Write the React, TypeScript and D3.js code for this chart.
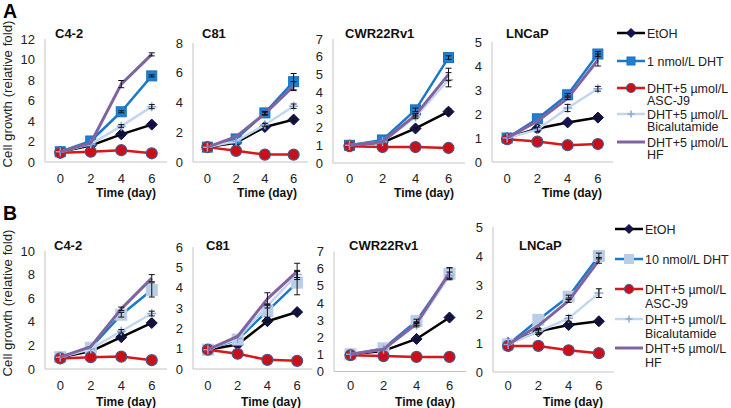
import React from "react";
import * as d3 from "d3";

const days = ["0", "2", "4", "6"];
const cellLines = ["C4-2", "C81", "CWR22Rv1", "LNCaP"];
const legendLabelsA = [["EtOH"], ["1 nmol/L DHT"], ["DHT+5 µmol/L", "ASC-J9"], ["DHT+5 µmol/L", "Bicalutamide"], ["DHT+5 µmol/L", "HF"]];
const legendLabelsB = [["EtOH"], ["10 nmol/L DHT"], ["DHT+5 µmol/L", "ASC-J9"], ["DHT+5 µmol/L", "Bicalutamide"], ["DHT+5 µmol/L", "HF"]];
const yMaxA = [12, 8, 7, 5];
const yMaxB = [10, 6, 7, 5];
const yStepA = [2, 2, 1, 1];
const yStepB = [2, 1, 1, 1];

// series order: EtOH, DHT, ASC-J9, Bicalutamide, HF
const valuesA_C42 = [[1.0, 1.6, 2.7, 3.65], [1.0, 2.05, 4.9, 8.4], [0.9, 1.0, 1.15, 0.85], [1.0, 1.75, 3.5, 5.4], [1.0, 1.85, 7.6, 10.5]];
const valuesA_C81 = [[1.0, 1.3, 2.35, 2.85], [1.0, 1.55, 3.3, 5.4], [1.0, 0.75, 0.5, 0.5], [1.0, 1.4, 2.5, 3.75], [1.0, 1.7, 3.25, 5.1]];
const valuesA_CWR = [[1.0, 1.15, 1.95, 2.9], [1.0, 1.3, 3.0, 5.95], [0.95, 0.9, 0.9, 0.85], [1.0, 1.2, 2.6, 4.7], [1.0, 1.2, 2.7, 5.0]];
const valuesA_LNCaP = [[1.0, 1.4, 1.65, 1.85], [1.0, 1.8, 2.8, 4.5], [0.95, 0.85, 0.7, 0.75], [1.0, 1.35, 2.25, 3.05], [1.0, 1.7, 2.65, 4.25]];
const valuesB_C42 = [[1.0, 1.5, 2.7, 3.9], [1.0, 1.8, 4.6, 6.7], [0.9, 1.0, 1.05, 0.75], [1.0, 1.7, 3.2, 4.7], [1.0, 1.9, 5.1, 7.7]];
const valuesB_C81 = [[0.95, 1.2, 2.35, 2.8], [0.95, 1.45, 2.85, 4.25], [0.95, 0.75, 0.45, 0.4], [0.95, 1.5, 3.1, 4.65], [0.95, 1.6, 3.45, 4.8]];
const valuesB_CWR = [[1.0, 1.2, 1.9, 3.15], [1.0, 1.35, 2.95, 5.7], [0.95, 0.9, 0.85, 0.85], [1.0, 1.3, 2.7, 5.6], [1.0, 1.3, 2.8, 5.75]];
const valuesB_LNCaP = [[1.0, 1.4, 1.62, 1.75], [0.95, 1.8, 2.6, 4.0], [0.9, 0.9, 0.75, 0.65], [0.95, 1.4, 1.85, 2.72], [0.95, 1.6, 2.45, 3.85]];

const errA_C42 = [[0, 0, 0.1, 0.1], [0, 0, 0.1, 0.1], [0, 0, 0, 0], [0, 0, 0.15, 0.2], [0, 0, 0.35, 0.15]];
const errA_C81 = [[0, 0, 0, 0.1], [0, 0, 0.1, 0.55], [0, 0, 0, 0], [0, 0, 0.1, 0.15], [0, 0, 0.1, 0.3]];
const errA_CWR = [[0, 0, 0.05, 0.15], [0, 0, 0.1, 0.1], [0, 0, 0, 0], [0, 0, 0.1, 0.4], [0, 0, 0.1, 0.35]];
const errA_LNCaP = [[0, 0, 0, 0.05], [0, 0, 0.05, 0.1], [0, 0, 0, 0], [0, 0.1, 0.15, 0.1], [0, 0, 0.05, 0.25]];
const errB_C42 = [[0, 0, 0.1, 0.15], [0, 0, 0.2, 0.6], [0, 0, 0, 0], [0, 0, 0.15, 0.2], [0, 0, 0.15, 0.3]];
const errB_C81 = [[0, 0, 0.05, 0.1], [0, 0, 0.3, 0.6], [0, 0, 0, 0], [0, 0, 0.1, 0.15], [0, 0, 0.3, 0.4]];
const errB_CWR = [[0, 0, 0.05, 0.1], [0, 0, 0.1, 0.35], [0, 0, 0, 0], [0, 0, 0.1, 0.2], [0, 0, 0.1, 0.3]];
const errB_LNCaP = [[0, 0.05, 0.05, 0.05], [0, 0, 0.05, 0.1], [0, 0, 0, 0], [0, 0.1, 0.1, 0.15], [0, 0, 0.05, 0.1]];

const FONT = "'Liberation Sans', Arial, Helvetica, sans-serif";

type Style = { line: string; width: number; marker: string; fill: string; stroke: string; size: number };

const stylesA: Style[] = [
  { line: "#000000", width: 2.5, marker: "diamond", fill: "#141452", stroke: "#0a0a33", size: 11 },
  { line: "#1b79c9", width: 2.5, marker: "square", fill: "#1f80d2", stroke: "#1a70b8", size: 10 },
  { line: "#d9161c", width: 2.5, marker: "circle", fill: "#cc0f17", stroke: "#4b5687", size: 11 },
  { line: "#c3d6ee", width: 2.5, marker: "plus", fill: "#8ca8d4", stroke: "#8ca8d4", size: 9 },
  { line: "#8064a2", width: 3, marker: "none", fill: "none", stroke: "none", size: 0 },
];
const stylesB: Style[] = [
  stylesA[0],
  { line: "#1b79c9", width: 2.5, marker: "square", fill: "#b9cde6", stroke: "#b9cde6", size: 11 },
  stylesA[2],
  stylesA[3],
  stylesA[4],
];

type Plot = {
  name: string;
  values: number[][];
  errs: number[][];
  yMax: number;
  step: number;
  left: number;
  right: number;
  y0: number;
  yTop: number;
  titleX: number;
};

function Marker({ s, x, y }: { s: Style; x: number; y: number }) {
  const r = s.size / 2;
  if (s.marker === "diamond")
    return <path d={`M${x},${y - r}L${x + r},${y}L${x},${y + r}L${x - r},${y}Z`} fill={s.fill} stroke={s.stroke} strokeWidth={1} />;
  if (s.marker === "square")
    return <rect x={x - r} y={y - r} width={s.size} height={s.size} fill={s.fill} stroke={s.stroke} strokeWidth={1} />;
  if (s.marker === "circle") return <circle cx={x} cy={y} r={r} fill={s.fill} stroke={s.stroke} strokeWidth={1.2} />;
  if (s.marker === "plus")
    return (
      <path d={`M${x - r},${y}L${x + r},${y}M${x},${y - r}L${x},${y + r}`} stroke={s.fill} strokeWidth={1.5} fill="none" />
    );
  return null;
}

function Chart({ p, styles, tickY, axisTitleY, titleY }: { p: Plot; styles: Style[]; tickY: number; axisTitleY: number; titleY: number }) {
  const x = d3.scaleBand<string>().domain(days).range([p.left, p.right]).padding(0);
  const y = d3.scaleLinear().domain([0, p.yMax]).range([p.y0, p.yTop]);
  const cx = (d: string) => (x(d) as number) + x.bandwidth() / 2;
  const ticks = d3.range(0, p.yMax + 0.001, p.step);
  const line = d3
    .line<number>()
    .x((_, i) => cx(days[i]))
    .y((v) => y(v));
  return (
    <g>
      <line x1={p.left} x2={p.left} y1={p.yTop} y2={p.y0} stroke="#c4c4c4" strokeWidth={1} />
      <line x1={p.left} x2={p.right} y1={p.y0} y2={p.y0} stroke="#c4c4c4" strokeWidth={1} />
      {ticks.map((t) => (
        <text key={t} x={p.left - 10} y={y(t) + 4.6} textAnchor="end" fontSize={13} fontFamily={FONT} fill="#222">
          {t}
        </text>
      ))}
      {days.map((d) => (
        <text key={d} x={cx(d)} y={tickY} textAnchor="middle" fontSize={13} fontFamily={FONT} fill="#222">
          {d}
        </text>
      ))}
      <text x={p.right - 41} y={axisTitleY} textAnchor="middle" fontSize={12} fontWeight="bold" fontFamily={FONT} fill="#111">
        Time (day)
      </text>
      <text x={p.titleX} y={titleY} fontSize={13} fontWeight="bold" fontFamily={FONT} fill="#111">
        {p.name}
      </text>
      {p.values.map((vals, si) => (
        <g key={si}>
          <path d={line(vals) || ""} fill="none" stroke={styles[si].line} strokeWidth={styles[si].width} strokeLinejoin="round" />
          {vals.map((v, i) => (
            <Marker key={i} s={styles[si]} x={cx(days[i])} y={y(v)} />
          ))}
        </g>
      ))}
      {p.values.map((vals, si) =>
        vals.map((v, i) => {
          const e = p.errs[si][i];
          if (!e) return null;
          const xx = cx(days[i]);
          return (
            <g key={`e${si}-${i}`} stroke="#111" strokeWidth={1}>
              <line x1={xx} x2={xx} y1={y(v - e)} y2={y(v + e)} />
              <line x1={xx - 3} x2={xx + 3} y1={y(v + e)} y2={y(v + e)} />
              <line x1={xx - 3} x2={xx + 3} y1={y(v - e)} y2={y(v - e)} />
            </g>
          );
        })
      )}
    </g>
  );
}

function Legend({ labels, styles, x0, x1, tx, rows, lineGap }: { labels: string[][]; styles: Style[]; x0: number; x1: number; tx: number; rows: number[]; lineGap: number }) {
  return (
    <g>
      {labels.map((lab, i) => (
        <g key={i}>
          <line x1={x0} x2={x1} y1={rows[i]} y2={rows[i]} stroke={styles[i].line} strokeWidth={styles[i].width} />
          <Marker s={{ ...styles[i], size: Math.max(styles[i].size - 2, 0) }} x={(x0 + x1) / 2} y={rows[i]} />
          {lab.map((t, j) => (
            <text key={j} x={tx} y={rows[i] + 4.5 + j * lineGap} fontSize={12.5} fontFamily={FONT} fill="#222">
              {t}
            </text>
          ))}
        </g>
      ))}
    </g>
  );
}

export default function App() {
  const valsA = [valuesA_C42, valuesA_C81, valuesA_CWR, valuesA_LNCaP];
  const valsB = [valuesB_C42, valuesB_C81, valuesB_CWR, valuesB_LNCaP];
  const errsA = [errA_C42, errA_C81, errA_CWR, errA_LNCaP];
  const errsB = [errB_C42, errB_C81, errB_CWR, errB_LNCaP];

  const layoutA = [
    { left: 45, right: 167, y0: 162, yTop: 39, titleX: 55 },
    { left: 193, right: 308, y0: 162, yTop: 43, titleX: 202 },
    { left: 333, right: 465, y0: 163, yTop: 39, titleX: 345 },
    { left: 492, right: 613, y0: 162, yTop: 42, titleX: 506 },
  ];
  const layoutB = [
    { left: 45, right: 167, y0: 369, yTop: 251, titleX: 54 },
    { left: 193, right: 312, y0: 369, yTop: 247, titleX: 206 },
    { left: 334, right: 466, y0: 371.5, yTop: 251.5, titleX: 349 },
    { left: 493, right: 614, y0: 372, yTop: 227, titleX: 519 },
  ];

  const plotsA: Plot[] = cellLines.map((n, i) => ({ name: n, values: valsA[i], errs: errsA[i], yMax: yMaxA[i], step: yStepA[i], ...layoutA[i] }));
  const plotsB: Plot[] = cellLines.map((n, i) => ({ name: n, values: valsB[i], errs: errsB[i], yMax: yMaxB[i], step: yStepB[i], ...layoutB[i] }));

  return (
    <svg width={731} height={408} style={{ position: "absolute", left: 0, top: 0, background: "#fff" }}>
      <rect width={731} height={408} fill="#fff" />
      <text x={3} y={18} fontSize={19.5} fontWeight="bold" fontFamily={FONT} fill="#000">A</text>
      <text x={3} y={220} fontSize={19.5} fontWeight="bold" fontFamily={FONT} fill="#000">B</text>
      <text transform="translate(12,94) rotate(-90)" textAnchor="middle" fontSize={13.3} fontFamily={FONT} fill="#222">
        Cell growth (relative fold)
      </text>
      <text transform="translate(12,303) rotate(-90)" textAnchor="middle" fontSize={13.3} fontFamily={FONT} fill="#222">
        Cell growth (relative fold)
      </text>
      {plotsA.map((p) => (
        <Chart key={"A" + p.name} p={p} styles={stylesA} tickY={183} axisTitleY={197} titleY={37.5} />
      ))}
      {plotsB.map((p) => (
        <Chart key={"B" + p.name} p={p} styles={stylesB} tickY={389.5} axisTitleY={406} titleY={249.5} />
      ))}
      <Legend labels={legendLabelsA} styles={stylesA} x0={617} x1={645} tx={647} rows={[33, 61, 88, 114, 142]} lineGap={12.5} />
      <Legend labels={legendLabelsB} styles={stylesB} x0={615} x1={643} tx={645} rows={[229, 259, 289, 319, 348]} lineGap={14} />
    </svg>
  );
}
